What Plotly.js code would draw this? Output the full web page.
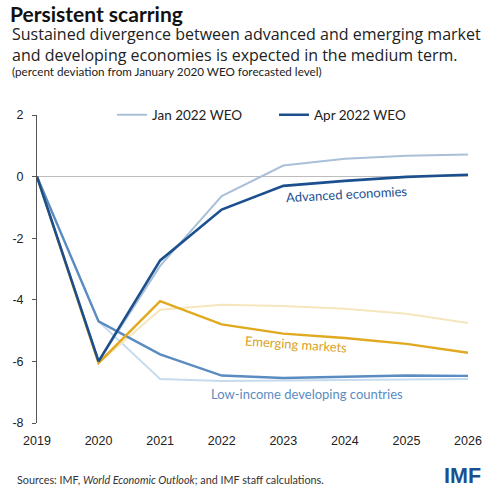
<!DOCTYPE html>
<html>
<head>
<meta charset="utf-8">
<script src="https://cdn.plot.ly/plotly-3.0.1.min.js"></script>
<style>html,body{margin:0;padding:0;background:#fff;}#chart{width:500px;height:491px;}</style>
</head>
<body>
<div id="chart"></div>
<script>
// ---- data ----
const years = [2019, 2020, 2021, 2022, 2023, 2024, 2025, 2026];
const yTickVals = [-8, -6, -4, -2, 0, 2];
const yTickText = ["-8", "-6", "-4", "-2", "0", "2"];

const advancedApr = [0, -6.0, -2.72, -1.07, -0.30, -0.14, -0.01, 0.06];
const advancedJan = [0, -6.0, -2.90, -0.63, 0.36, 0.58, 0.68, 0.72];
const emergingApr = [0, -6.05, -4.04, -4.80, -5.10, -5.24, -5.43, -5.72];
const emergingJan = [0, -6.05, -4.32, -4.16, -4.20, -4.29, -4.45, -4.75];
const lidcApr = [0, -4.70, -5.77, -6.46, -6.54, -6.49, -6.46, -6.47];
const lidcJan = [0, -4.70, -6.57, -6.64, -6.62, -6.60, -6.58, -6.57];

const seriesLabels = ["Advanced economies", "Emerging markets", "Low-income developing countries"];
const legendNames = ["Jan 2022 WEO", "Apr 2022 WEO"];

// ---- styling ----
const FONT = "Lato, 'Open Sans', sans-serif";
const C = {
  advApr: "#1b4f8e", advJan: "#a9c0d8",
  emApr: "#e1a91f", emJan: "#f5e6bd",
  lidcApr: "#5a8cc1", lidcJan: "#c6dcee"
};

function tr(y, color, width, name, show) {
  return {x: years, y: y, type: "scatter", mode: "lines",
    line: {color: color, width: width}, name: name, showlegend: show,
    hoverinfo: "skip"};
}

const data = [
  tr(lidcJan, C.lidcJan, 2, "LIDC Jan", false),
  tr(emergingJan, C.emJan, 2, "EM Jan", false),
  tr(advancedJan, C.advJan, 2, legendNames[0], true),
  tr(lidcApr, C.lidcApr, 2.4, "LIDC Apr", false),
  tr(emergingApr, C.emApr, 2.4, "EM Apr", false),
  tr(advancedApr, C.advApr, 2.6, legendNames[1], true)
];

const layout = {
  width: 500, height: 491,
  margin: {l: 37, r: 32, t: 115, b: 68},
  paper_bgcolor: "#fff", plot_bgcolor: "#fff",
  font: {family: FONT, color: "#222"},
  title: {
    text: "<b>Persistent scarring</b>",
    font: {family: FONT, size: 21, color: "#111"},
    xref: "container", yref: "container",
    x: 0.02, xanchor: "left", y: 1 - 15/491, yanchor: "middle"
  },
  showlegend: true,
  legend: {
    orientation: "h", x: 0.174, xanchor: "left", y: 1.0, yanchor: "middle",
    entrywidth: 117, entrywidthmode: "pixels", traceorder: "normal",
    font: {family: FONT, size: 13.5, color: "#222"}, bgcolor: "rgba(0,0,0,0)"
  },
  xaxis: {
    range: [2019, 2026], showgrid: false, zeroline: false, showline: false,
    tickvals: years, ticktext: years.map(String), ticks: "",
    tickfont: {family: "'Liberation Sans', Arial, sans-serif", size: 12.5, color: "#222"},
    ticklabelstandoff: 8, fixedrange: true
  },
  yaxis: {
    range: [-8, 2], showgrid: false,
    zeroline: true, zerolinecolor: "#bcbcbc", zerolinewidth: 1.5,
    showline: true, linecolor: "#555", linewidth: 1,
    ticks: "outside", ticklen: 4, tickcolor: "#555", tickwidth: 1,
    tickvals: yTickVals, ticktext: yTickText,
    tickfont: {family: "'Liberation Sans', Arial, sans-serif", size: 12.5, color: "#222"},
    ticklabelstandoff: 6, fixedrange: true
  },
  annotations: [
    {xref: "paper", yref: "paper", x: -0.0626, y: (423-44.5)/308, xanchor: "left", yanchor: "middle",
     align: "left",
     text: "Sustained divergence between advanced and emerging market<br>and developing economies is expected in the medium term.",
     showarrow: false,
     font: {family: "'Open Sans', Lato, sans-serif", size: 16, color: "#222"}},
    {xref: "paper", yref: "paper", x: -0.0626, y: (423-71)/308, xanchor: "left", yanchor: "middle",
     text: "(percent deviation from January 2020 WEO forecasted level)", showarrow: false,
     font: {family: FONT, size: 11.7, color: "#222"}},
    {xref: "x", yref: "y", x: 2024.03, y: -0.57, text: seriesLabels[0], showarrow: false,
     textangle: -3, font: {family: FONT, size: 13, color: C.advApr}},
    {xref: "x", yref: "y", x: 2023.2, y: -5.44, text: seriesLabels[1], showarrow: false,
     textangle: 4, font: {family: FONT, size: 13, color: "#d9a21c"}},
    {xref: "x", yref: "y", x: 2023.38, y: -7.07, text: seriesLabels[2], showarrow: false,
     font: {family: FONT, size: 13, color: C.lidcApr}},
    {xref: "paper", yref: "paper", x: (15-37)/431, y: (423-479)/308, xanchor: "left", yanchor: "middle",
     text: "Sources: IMF, <i>World Economic Outlook</i>; and IMF staff calculations.", showarrow: false,
     font: {family: FONT, size: 10.8, color: "#333"}},
    {xref: "paper", yref: "paper", x: (483-37)/431, y: (423-476)/308, xanchor: "right", yanchor: "middle",
     text: "<b>IMF</b>", showarrow: false,
     font: {family: "'Liberation Sans', Arial, sans-serif", size: 21.5, color: "#1b4f8e"}}
  ]
};

Plotly.newPlot("chart", data, layout, {staticPlot: true, displayModeBar: false});
</script>
</body>
</html>
